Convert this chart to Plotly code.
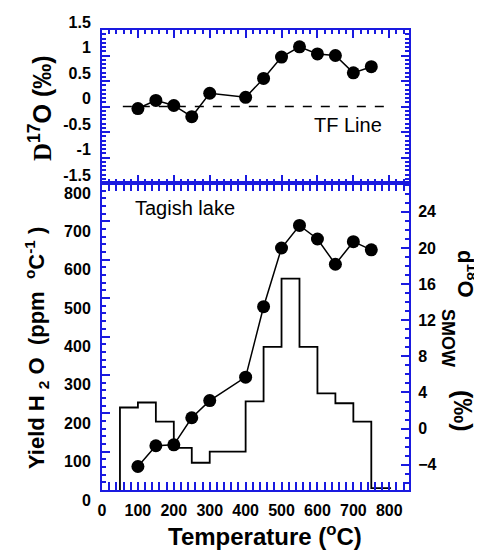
import plotly.graph_objects as go

# ---- data ----
temps = [100, 150, 200, 250, 300, 400, 450, 500, 550, 600, 650, 700, 750]
d17O = [-0.04, 0.12, 0.02, -0.2, 0.26, 0.18, 0.55, 0.97, 1.17, 1.03, 1.0, 0.66, 0.78]
d18O = [-4.2, -1.9, -1.8, 1.2, 3.1, 5.7, 13.5, 20.0, 22.5, 21.0, 18.2, 20.7, 19.8]
bin_edges = [50, 100, 150, 200, 250, 300, 400, 450, 500, 550, 600, 650, 700, 750, 805]
yields = [215, 228, 178, 110, 71, 100, 231, 373, 551, 373, 252, 226, 178, 5]
tf_line_x = [58, 795]
tf_line_y = [0, 0]
x_ticks = [0, 100, 200, 300, 400, 500, 600, 700, 800]
yield_ticks = [0, 100, 200, 300, 400, 500, 600, 700, 800]
d18_ticks = [-4, 0, 4, 8, 12, 16, 20, 24]
d17_ticks = [-1.5, -1, -0.5, 0, 0.5, 1, 1.5]
d17_ticklabels = ["-1.5", "-1", "-0.5", "0", "0.5", "1", "1.5"]

BLUE = "#1a1ae0"
FONT = "Liberation Sans, Arial, sans-serif"

# page body has an 8px default margin: the figure is drawn at (8, 8)
OFF = 8
W, H = 482 - OFF, 552 - OFF
PL, PR, PT, PB = 102, 409, 30, 490   # plot area in screen pixels

# step path for the histogram (built from the bin edges and yields)
hist_x = [bin_edges[0]] + bin_edges[:-1] + [bin_edges[-1]]
hist_y = [0] + yields + [yields[-1]]

fig = go.Figure()

# top panel
fig.add_trace(go.Scatter(x=tf_line_x, y=tf_line_y, mode="lines",
                         line=dict(color="black", width=1.5, dash="dash"),
                         xaxis="x2", yaxis="y2", showlegend=False))
fig.add_trace(go.Scatter(x=temps, y=d17O, mode="lines+markers",
                         line=dict(color="black", width=1.5),
                         marker=dict(color="black", size=13),
                         xaxis="x2", yaxis="y2", showlegend=False))

# bottom panel: histogram (left axis) and d18O (right axis)
fig.add_trace(go.Scatter(x=hist_x, y=hist_y, mode="lines", line_shape="hv",
                         line=dict(color="black", width=1.8),
                         xaxis="x", yaxis="y", showlegend=False))
fig.add_trace(go.Scatter(x=temps, y=d18O, mode="lines+markers",
                         line=dict(color="black", width=1.5),
                         marker=dict(color="black", size=13),
                         xaxis="x", yaxis="y3", showlegend=False))

common_ax = dict(showline=True, linecolor=BLUE, linewidth=2, ticks="inside",
                 tickcolor=BLUE, tickwidth=1.5, ticklen=8, showgrid=False,
                 zeroline=False, automargin=False,
                 tickfont=dict(family=FONT, size=16, color="black", weight="bold"))

def minor(dt):
    return dict(dtick=dt, tick0=0, ticks="inside", ticklen=4,
                tickcolor=BLUE, tickwidth=1.5)

split = (PB - 183) / (PB - PT)

fig.update_layout(
    width=W, height=H,
    margin=dict(l=PL - OFF, r=W - (PR - OFF), t=PT - OFF, b=H - (PB - OFF),
                autoexpand=False),
    paper_bgcolor="white", plot_bgcolor="white",
    xaxis=dict(common_ax, domain=[0, 1], range=[0, 855], anchor="y",
               tickvals=x_ticks, mirror="allticks", ticklabelstandoff=5,
               minor=minor(20)),
    yaxis=dict(common_ax, domain=[0, split], range=[0, 800], anchor="x",
               tickvals=yield_ticks, ticklabelshift=10, ticklabelstandoff=6,
               minor=minor(20)),
    yaxis3=dict(common_ax, overlaying="y", side="right", anchor="x",
                range=[-6.8, 27.2], tickvals=d18_ticks, ticklabelstandoff=4,
                minor=minor(1)),
    xaxis2=dict(common_ax, domain=[0, 1], range=[0, 855], anchor="y2",
                matches="x", showticklabels=False, mirror="allticks",
                tickvals=x_ticks, minor=minor(20)),
    yaxis2=dict(common_ax, domain=[split, 1], range=[-1.5, 1.5], anchor="x2",
                tickvals=d17_ticks, ticktext=d17_ticklabels, mirror="allticks",
                ticklabelshift=-8, ticklabelstandoff=6,
                minor=minor(0.5 / 6)),
)

def px_x(px):
    return (px - PL) / (PR - PL)

def px_y(py):
    return (PB - py) / (PB - PT)

annots = [
    dict(text="Temperature (<sup>o</sup>C)", x=px_x(265), y=px_y(535),
         size=24, textangle=0),
    dict(text="Yield H <sub>2</sub> O  (ppm  <sup>o</sup>C<sup>-1</sup> )",
         x=px_x(36), y=px_y(348), size=22, textangle=-90),
    dict(text="<span style='font-family:Liberation Serif'>D</span><sup>17</sup>O (‰)",
         x=px_x(40), y=px_y(108), size=25, textangle=-90),
    dict(text="d<sup>18</sup>O", x=px_x(467), y=px_y(274), size=22,
         textangle=90),
    dict(text="SMOW", x=px_x(448), y=px_y(338), size=18, textangle=90),
    dict(text="(‰)", x=px_x(463), y=px_y(411), size=25, textangle=90),
]
for a in annots:
    fig.add_annotation(xref="paper", yref="paper", showarrow=False,
                       xanchor="center", yanchor="middle",
                       x=a["x"], y=a["y"], text=a["text"],
                       textangle=a["textangle"],
                       font=dict(family=FONT, color="black", size=a["size"],
                                 weight="bold"))

fig.add_annotation(xref="x2", yref="y2", x=586, y=-0.36, text="TF Line",
                   showarrow=False, xanchor="left", yanchor="middle",
                   font=dict(family=FONT, size=20, color="black"))
fig.add_annotation(xref="x", yref="y", x=86, y=735, text="Tagish lake",
                   showarrow=False, xanchor="left", yanchor="middle",
                   font=dict(family=FONT, size=20, color="black"))

fig.write_html("out.html")
